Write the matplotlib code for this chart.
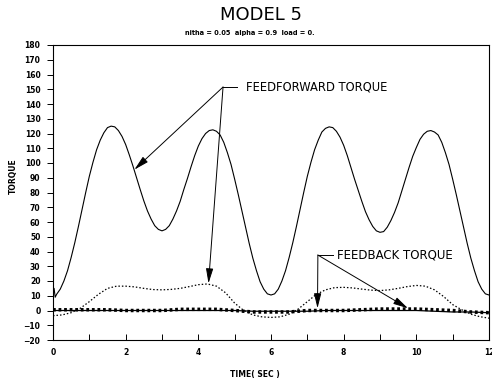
import numpy as np
import matplotlib.pyplot as plt

# feedforward torque (solid): start-up ripple, then every 0.1 s
t_ff = [0.0, 0.03, 0.06] + [round(0.1 * k, 1) for k in range(1, 121)]
ff = [10, 15, 9,
      11, 14.5, 20, 27, 36, 46, 57, 68.5, 80, 91,
      100.5, 109, 115.5, 120.5, 124, 125, 124.5, 122, 118, 112.5,
      105.5, 98, 90, 82, 74.3, 67.5, 62, 57.5, 55, 54,
      55, 57.5, 62, 67.5, 74, 82, 89.5, 97.5, 105, 111.5,
      116.5, 120, 122, 122.5, 121.5, 119, 114, 107, 99, 89,
      78.5, 67.5, 56.5, 45.5, 35.5, 27, 19.5, 14.5, 11.3, 10.5,
      11.3, 14.5, 20, 27, 36, 46, 57, 68.5, 80, 91,
      100.5, 109, 115.5, 121, 123.5, 124.5, 124, 121.5, 117.5, 112,
      105, 97, 89, 81.5, 74, 67, 61.5, 57, 54, 53,
      53.5, 56.5, 61, 66.5, 73, 81, 89, 97, 104.5, 110.5,
      116, 119.5, 121.5, 122, 121, 119, 114, 107, 99, 89,
      78.5, 67.5, 56.5, 45.5, 35.5, 27, 19.5, 14.5, 11.3, 10.5]

# feedback torque (dotted), every 0.25 s
t_fb = [0.25 * k for k in range(49)]
fb = [-3.5, -3, -1.5, 1.5, 6, 11, 15, 16.5, 16.5, 16, 15, 14.2, 14,
      14.3, 15, 16.2, 17.5, 18, 16.5, 12, 5, 0, -3, -4.3, -4.7,
      -4.3, -2.5, 1, 6, 11, 14, 15.5, 15.7, 15.3, 14.5, 13.8, 13.5,
      14, 15, 16.2, 17, 16.5, 14, 9.5, 4, 0.5, -2.5, -4.2, -5.2]

# small residual torques near zero, every 0.5 s
t_res = [0.5 * k for k in range(25)]
res_solid = [0, 0, 0, 0, 0, 0, 0, 0, 0, 0, 0, -0.5, -0.5,
             -0.5, -0.5, 0, 0, 0, 0, 0, 0, -0.5, -1, -1, -1.5]
res_dot = [0.5, 0.5, 0.5, 0.5, 0, 0, 0, 0.8, 0.8, 0.8, 0, -1, -1,
           -1, 0, 0, 0, 0.5, 1, 1, 1, 0.5, 0, -1, -1.5]

fig = plt.figure(figsize=(4.92, 3.84), dpi=100)
ax = fig.add_axes([53 / 492, 44 / 384, 436 / 492, 295 / 384])

ax.plot(t_ff, ff, color='k', lw=0.8)
ax.plot(t_fb, fb, color='k', lw=0.9, ls=(0, (1.2, 1.6)))
ax.plot(t_res, res_solid, color='k', lw=0.9)
ax.plot(t_res, res_dot, color='k', lw=2.5, ls=(0, (0.8, 0.8)))

ax.set_xlim(0, 12)
ax.set_ylim(-20, 180)
ax.set_xticks(np.arange(0, 13, 2))
ax.set_xticks(np.arange(0, 13, 1), minor=True)
ax.set_yticks(np.arange(-20, 181, 10))
ax.tick_params(axis='x', which='both', direction='in', length=4, width=0.7,
               labelsize=5.5, pad=6)
ax.tick_params(axis='y', direction='out', length=4, width=0.7,
               labelsize=5.5, pad=5)
for lab in ax.get_xticklabels() + ax.get_yticklabels():
    lab.set_fontweight('bold')
for s in ax.spines.values():
    s.set_linewidth(0.8)

# leader lines and arrows
arrow = dict(arrowstyle='-|>,head_length=0.9,head_width=0.22', color='k',
             lw=0.7, shrinkA=0, shrinkB=0)
ax.plot([4.68, 5.06], [151.5, 151.5], color='k', lw=0.7)
ax.annotate('', xy=(2.24, 95.5), xytext=(4.68, 151.5), arrowprops=arrow)
ax.annotate('', xy=(4.28, 18.4), xytext=(4.68, 151.5), arrowprops=arrow)
ax.text(5.31, 151.5, 'FEEDFORWARD TORQUE', fontsize=8.3, va='center')

ax.plot([7.29, 7.71], [37.6, 37.6], color='k', lw=0.7)
ax.annotate('', xy=(7.28, 1.5), xytext=(7.29, 37.6), arrowprops=arrow)
ax.annotate('', xy=(9.77, 1.5), xytext=(7.29, 37.6), arrowprops=arrow)
ax.text(7.82, 37.6, 'FEEDBACK TORQUE', fontsize=8.5, va='center')

fig.text(261 / 492, 1 - 15 / 384, 'MODEL 5', fontsize=13, ha='center', va='center')
fig.text(250 / 492, 1 - 33 / 384, 'nitha = 0.05  alpha = 0.9  load = 0.',
         fontsize=4.8, fontweight='bold', ha='center', va='center')
fig.text(13 / 492, 1 - 176 / 384, 'TORQUE', fontsize=5.5, fontweight='bold',
         rotation=90, ha='center', va='center')
fig.text(255 / 492, 1 - 374 / 384, 'TIME( SEC )', fontsize=5.5,
         fontweight='bold', ha='center', va='center')

fig.savefig('out.png', dpi=100)
